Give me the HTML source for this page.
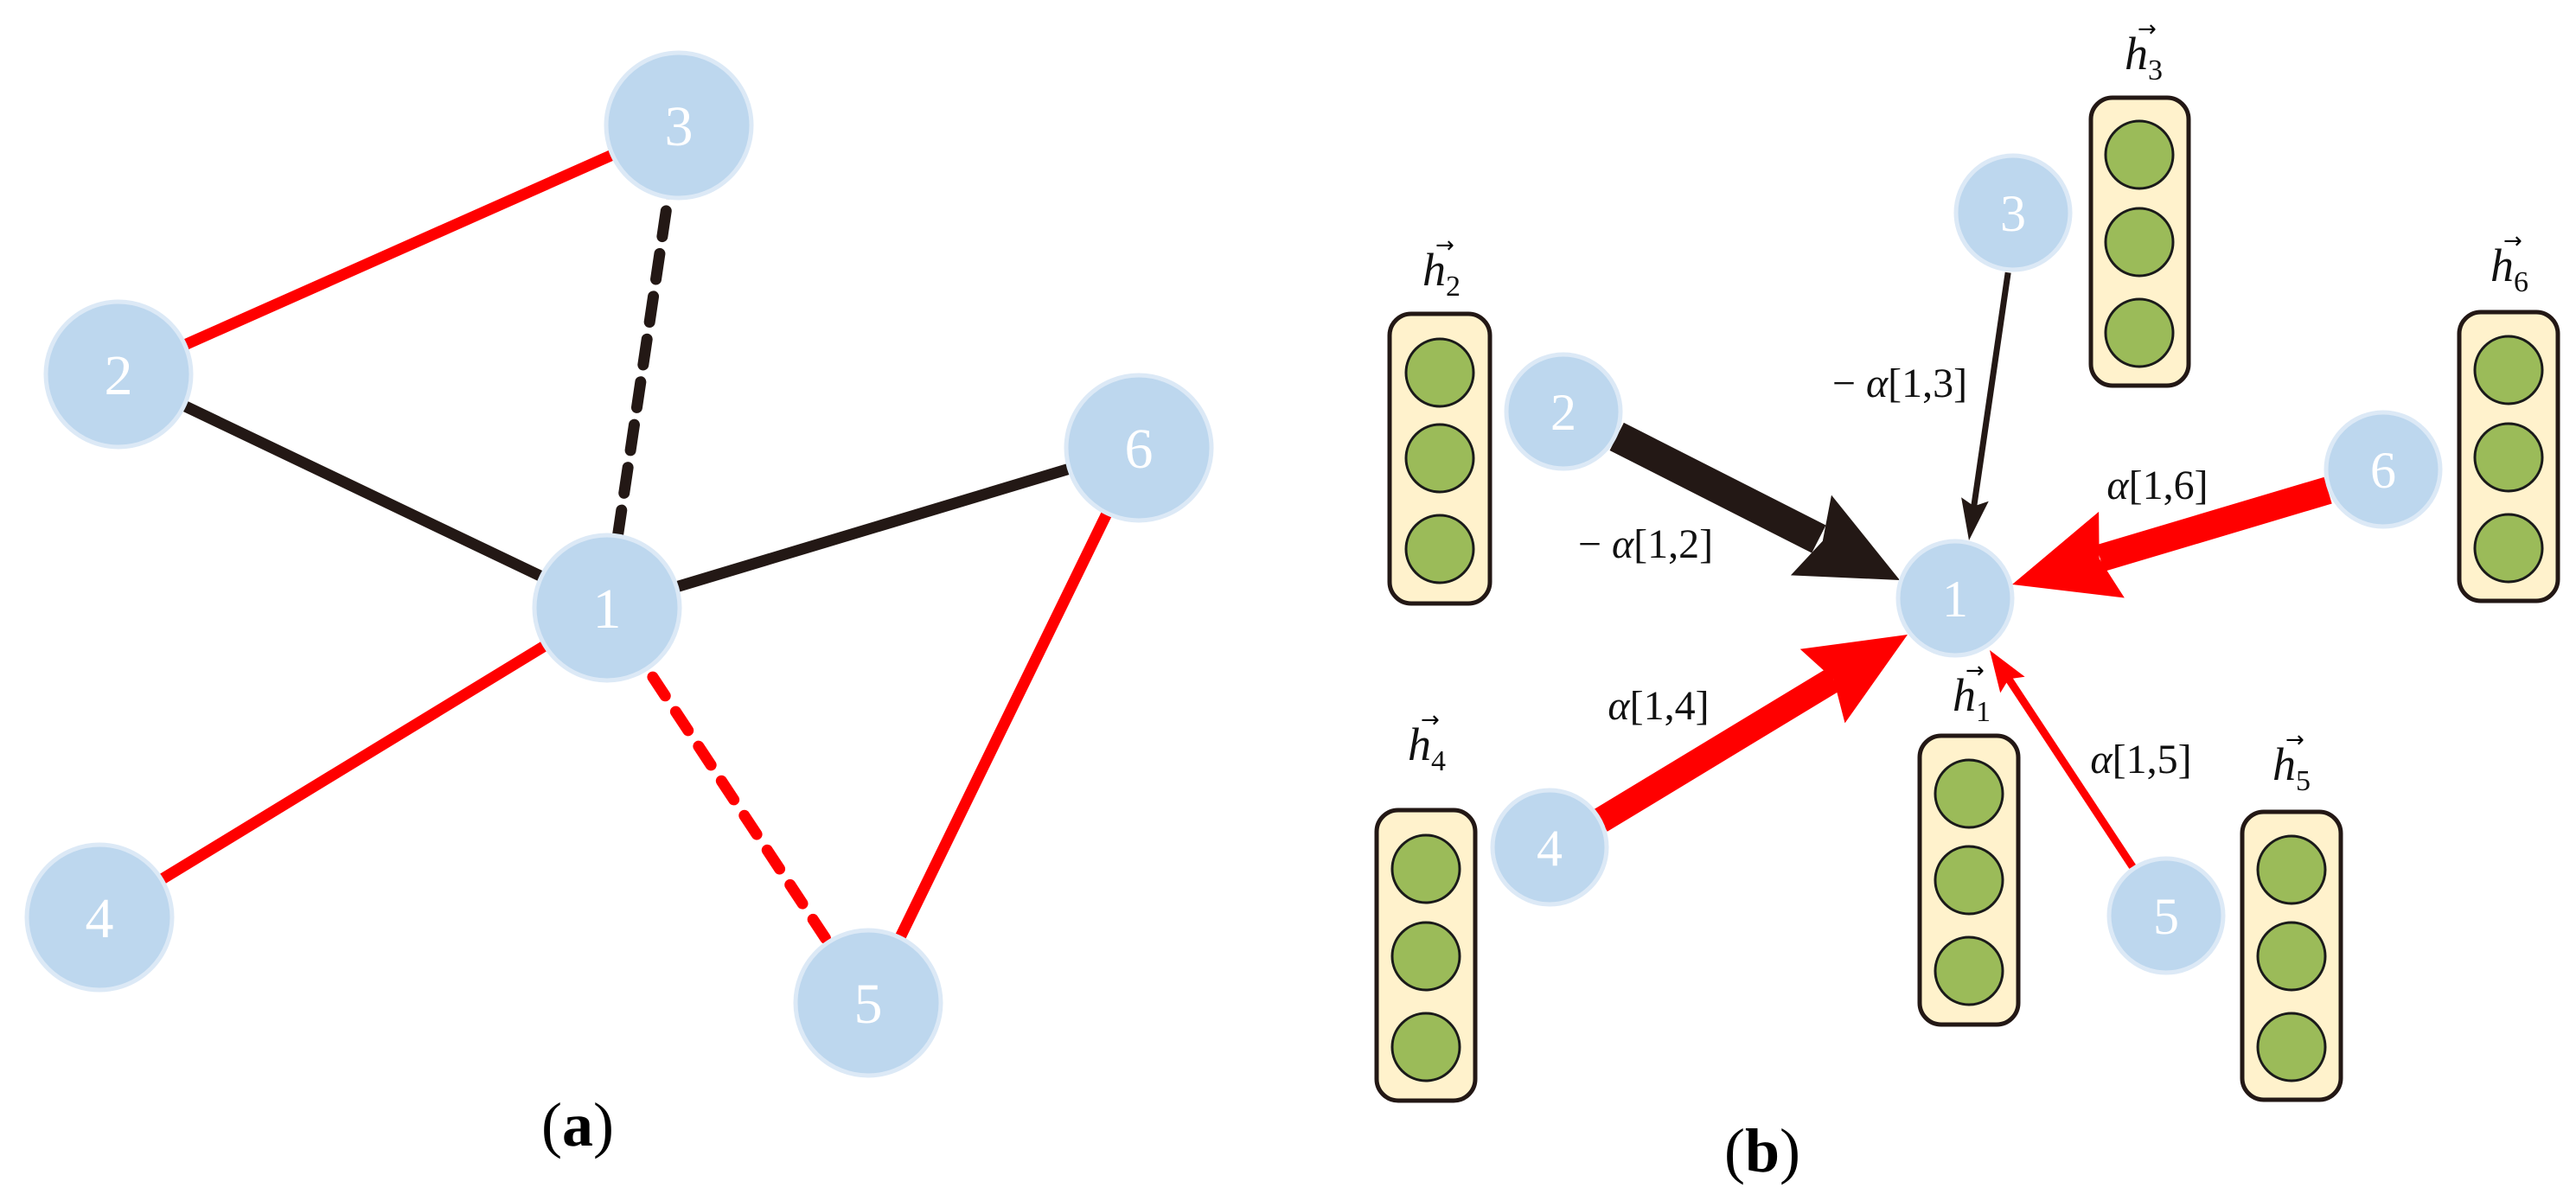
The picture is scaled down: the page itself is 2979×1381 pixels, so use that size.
<!DOCTYPE html>
<html><head><meta charset="utf-8"><style>
html,body{margin:0;padding:0;background:#fff;}
svg{display:block;}
.n{fill:#bdd7ee;stroke:#dce9f6;stroke-width:5;}
.nt{fill:#fff;font-family:"Liberation Serif",serif;text-anchor:middle;}
.lb{font-family:"Liberation Serif",serif;font-size:48px;fill:#111;text-anchor:middle;}
.box{fill:#fff2cc;stroke:#231815;stroke-width:5;}
.g{fill:#9bbb59;stroke:#1a1a1a;stroke-width:3;}
.h{font-family:"Liberation Serif",serif;font-style:italic;font-size:54px;fill:#111;}
</style></head><body>
<svg width="2979" height="1381" viewBox="0 0 2979 1381" xmlns="http://www.w3.org/2000/svg">
<!-- Panel (a) edges -->
<g stroke-width="13" fill="none">
<line x1="137" y1="433" x2="785" y2="145" stroke="#ff0000"/>
<line x1="137" y1="433" x2="702" y2="703" stroke="#231815"/>
<line x1="785" y1="145" x2="702" y2="703" stroke="#231815" stroke-dasharray="30,20" stroke-linecap="round"/>
<line x1="702" y1="703" x2="1317" y2="518" stroke="#231815"/>
<line x1="702" y1="703" x2="115" y2="1061" stroke="#ff0000"/>
<line x1="702" y1="703" x2="1004" y2="1160" stroke="#ff0000" stroke-dasharray="26,22" stroke-linecap="round"/>
<line x1="1317" y1="518" x2="1004" y2="1160" stroke="#ff0000"/>
</g>
<g>
<circle class="n" cx="785" cy="145" r="84"/><text class="nt" x="785" y="168" font-size="66">3</text>
<circle class="n" cx="137" cy="433" r="84"/><text class="nt" x="137" y="456" font-size="66">2</text>
<circle class="n" cx="1317" cy="518" r="84"/><text class="nt" x="1317" y="541" font-size="66">6</text>
<circle class="n" cx="702" cy="703" r="84"/><text class="nt" x="702" y="726" font-size="66">1</text>
<circle class="n" cx="115" cy="1061" r="84"/><text class="nt" x="115" y="1084" font-size="66">4</text>
<circle class="n" cx="1004" cy="1160" r="84"/><text class="nt" x="1004" y="1183" font-size="66">5</text>
</g>
<text x="668" y="1325" font-family="Liberation Serif,serif" font-size="72" text-anchor="middle">(<tspan font-weight="bold">a</tspan>)</text>

<!-- Panel (b) boxes -->
<g>
<rect class="box" x="1607" y="363" width="116" height="335" rx="25"/>
<circle class="g" cx="1665" cy="431" r="39"/><circle class="g" cx="1665" cy="530" r="39"/><circle class="g" cx="1665" cy="635" r="39"/>
<rect class="box" x="2418" y="113" width="113" height="333" rx="25"/>
<circle class="g" cx="2474" cy="179" r="39"/><circle class="g" cx="2474" cy="280" r="39"/><circle class="g" cx="2474" cy="385" r="39"/>
<rect class="box" x="2844" y="361" width="114" height="334" rx="25"/>
<circle class="g" cx="2901" cy="428" r="39"/><circle class="g" cx="2901" cy="529" r="39"/><circle class="g" cx="2901" cy="634" r="39"/>
<rect class="box" x="2220" y="851" width="114" height="334" rx="25"/>
<circle class="g" cx="2277" cy="918" r="39"/><circle class="g" cx="2277" cy="1018" r="39"/><circle class="g" cx="2277" cy="1123" r="39"/>
<rect class="box" x="1592" y="937" width="114" height="336" rx="25"/>
<circle class="g" cx="1649" cy="1005" r="39"/><circle class="g" cx="1649" cy="1106" r="39"/><circle class="g" cx="1649" cy="1211" r="39"/>
<rect class="box" x="2593" y="939" width="114" height="333" rx="25"/>
<circle class="g" cx="2650" cy="1006" r="39"/><circle class="g" cx="2650" cy="1106" r="39"/><circle class="g" cx="2650" cy="1211" r="39"/>
</g>
<!-- h labels -->
<g>
<text class="h" x="1645" y="330">h<tspan font-style="normal" font-size="34" dy="12">2</tspan></text><text x="1660" y="292" font-size="26" font-family="DejaVu Sans,sans-serif">→</text>
<text class="h" x="2457" y="80">h<tspan font-style="normal" font-size="34" dy="12">3</tspan></text><text x="2472" y="42" font-size="26" font-family="DejaVu Sans,sans-serif">→</text>
<text class="h" x="2880" y="325">h<tspan font-style="normal" font-size="34" dy="12">6</tspan></text><text x="2895" y="287" font-size="26" font-family="DejaVu Sans,sans-serif">→</text>
<text class="h" x="2258" y="822">h<tspan font-style="normal" font-size="34" dy="12">1</tspan></text><text x="2273" y="784" font-size="26" font-family="DejaVu Sans,sans-serif">→</text>
<text class="h" x="1628" y="879">h<tspan font-style="normal" font-size="34" dy="12">4</tspan></text><text x="1643" y="841" font-size="26" font-family="DejaVu Sans,sans-serif">→</text>
<text class="h" x="2628" y="902">h<tspan font-style="normal" font-size="34" dy="12">5</tspan></text><text x="2643" y="864" font-size="26" font-family="DejaVu Sans,sans-serif">→</text>
</g>
<!-- arrows -->
<g transform="translate(2197,671) rotate(26.9)" fill="#231815">
<rect x="-367" y="-18" width="262" height="36"/><polygon points="0,0 -115,-52 -100,0 -115,52"/>
</g>
<g transform="translate(2277,625) rotate(98.3)" fill="#231815">
<rect x="-313" y="-3.5" width="275" height="7"/><polygon points="0,0 -48,-16 -40,0 -48,16"/>
</g>
<g transform="translate(2327,676) rotate(163.4)" fill="#ff0000">
<rect x="-381" y="-16" width="275" height="32"/><polygon points="0,0 -120,-52 -105,0 -120,52"/>
</g>
<g transform="translate(2206,734) rotate(-31.2)" fill="#ff0000">
<rect x="-415" y="-15" width="315" height="30"/><polygon points="0,0 -115,-50 -100,0 -115,50"/>
</g>
<g transform="translate(2301,752) rotate(236.6)" fill="#ff0000">
<rect x="-300" y="-4.5" width="262" height="9"/><polygon points="0,0 -48,-17 -40,0 -48,17"/>
</g>
<!-- nodes b -->
<g>
<circle class="n" cx="2328" cy="246" r="66"/><text class="nt" x="2328" y="267" font-size="60">3</text>
<circle class="n" cx="1808" cy="476" r="66"/><text class="nt" x="1808" y="497" font-size="60">2</text>
<circle class="n" cx="2756" cy="543" r="66"/><text class="nt" x="2756" y="564" font-size="60">6</text>
<circle class="n" cx="2261" cy="692" r="66"/><text class="nt" x="2261" y="713" font-size="60">1</text>
<circle class="n" cx="1792" cy="980" r="66"/><text class="nt" x="1792" y="1001" font-size="60">4</text>
<circle class="n" cx="2505" cy="1059" r="66"/><text class="nt" x="2505" y="1080" font-size="60">5</text>
</g>
<!-- edge labels -->
<text class="lb" x="2197" y="459">− <tspan font-style="italic">α</tspan>[1,3]</text>
<text class="lb" x="1903" y="645">− <tspan font-style="italic">α</tspan>[1,2]</text>
<text class="lb" x="2495" y="577"><tspan font-style="italic">α</tspan>[1,6]</text>
<text class="lb" x="1918" y="832"><tspan font-style="italic">α</tspan>[1,4]</text>
<text class="lb" x="2476" y="894"><tspan font-style="italic">α</tspan>[1,5]</text>
<text x="2038" y="1355" font-family="Liberation Serif,serif" font-size="72" text-anchor="middle">(<tspan font-weight="bold">b</tspan>)</text>
</svg>
</body></html>
